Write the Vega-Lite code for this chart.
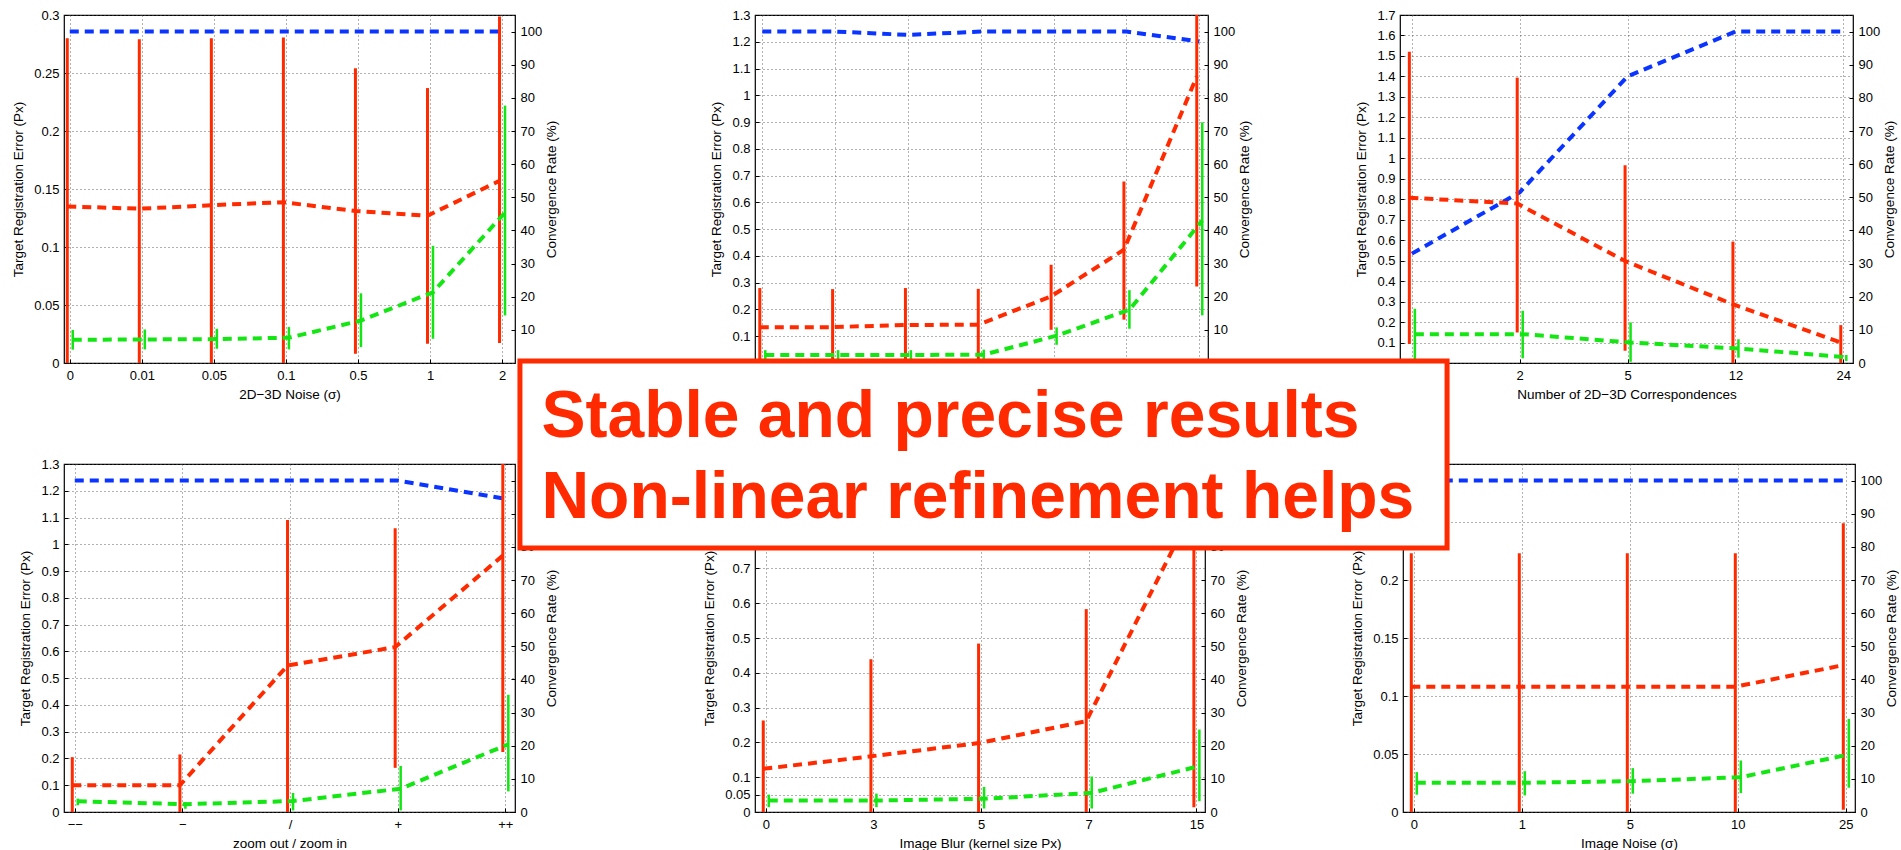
{
  "$schema": "https://vega.github.io/schema/vega-lite/v6.json",
  "background": "white",
  "padding": {"left": 11, "top": 8, "right": 0, "bottom": 0},
  "datasets": {
    "p1": [
      {"i": 1, "lin": 0.135, "lin_lo": 0, "lin_hi": 0.28, "ref": 0.02, "ref_lo": 0.0115, "ref_hi": 0.0285, "conv": 100},
      {"i": 2, "lin": 0.133, "lin_lo": 0, "lin_hi": 0.279, "ref": 0.0203, "ref_lo": 0.0117, "ref_hi": 0.0289, "conv": 100},
      {"i": 3, "lin": 0.136, "lin_lo": 0, "lin_hi": 0.28, "ref": 0.0206, "ref_lo": 0.0123, "ref_hi": 0.0295, "conv": 100},
      {"i": 4, "lin": 0.1386, "lin_lo": 0, "lin_hi": 0.2806, "ref": 0.0218, "ref_lo": 0.0117, "ref_hi": 0.031, "conv": 100},
      {"i": 5, "lin": 0.131, "lin_lo": 0.008, "lin_hi": 0.254, "ref": 0.0366, "ref_lo": 0.0137, "ref_hi": 0.0601, "conv": 100},
      {"i": 6, "lin": 0.127, "lin_lo": 0.0166, "lin_hi": 0.237, "ref": 0.061, "ref_lo": 0.0209, "ref_hi": 0.101, "conv": 100},
      {"i": 7, "lin": 0.157, "lin_lo": 0.0172, "lin_hi": 0.2986, "ref": 0.1297, "ref_lo": 0.041, "ref_hi": 0.2219, "conv": 100}
    ],
    "p2": [
      {"i": 1, "lin": 0.134, "lin_lo": 0, "lin_hi": 0.28, "ref": 0.03, "ref_lo": 0.012, "ref_hi": 0.048, "conv": 100},
      {"i": 2, "lin": 0.134, "lin_lo": 0, "lin_hi": 0.276, "ref": 0.03, "ref_lo": 0.012, "ref_hi": 0.048, "conv": 100},
      {"i": 3, "lin": 0.142, "lin_lo": 0, "lin_hi": 0.28, "ref": 0.03, "ref_lo": 0.012, "ref_hi": 0.048, "conv": 99},
      {"i": 4, "lin": 0.143, "lin_lo": 0, "lin_hi": 0.277, "ref": 0.031, "ref_lo": 0.012, "ref_hi": 0.05, "conv": 100},
      {"i": 5, "lin": 0.249, "lin_lo": 0.124, "lin_hi": 0.367, "ref": 0.102, "ref_lo": 0.068, "ref_hi": 0.133, "conv": 100},
      {"i": 6, "lin": 0.423, "lin_lo": 0.162, "lin_hi": 0.678, "ref": 0.199, "ref_lo": 0.128, "ref_hi": 0.272, "conv": 100},
      {"i": 7, "lin": 1.07, "lin_lo": 0.286, "lin_hi": 1.85, "ref": 0.532, "ref_lo": 0.178, "ref_hi": 0.899, "conv": 97}
    ],
    "p3": [
      {"i": 1, "lin": 0.807, "lin_lo": 0.093, "lin_hi": 1.521, "ref": 0.141, "ref_lo": 0.017, "ref_hi": 0.265, "conv": 33},
      {"i": 2, "lin": 0.779, "lin_lo": 0.149, "lin_hi": 1.394, "ref": 0.141, "ref_lo": 0.023, "ref_hi": 0.255, "conv": 51.5},
      {"i": 3, "lin": 0.498, "lin_lo": 0.06, "lin_hi": 0.966, "ref": 0.1, "ref_lo": 0.006, "ref_hi": 0.198, "conv": 86.5},
      {"i": 4, "lin": 0.287, "lin_lo": 0, "lin_hi": 0.593, "ref": 0.071, "ref_lo": 0.026, "ref_hi": 0.116, "conv": 100},
      {"i": 5, "lin": 0.1, "lin_lo": 0, "lin_hi": 0.185, "ref": 0.028, "ref_lo": 0.01, "ref_hi": 0.039, "conv": 100}
    ],
    "p4": [
      {"i": 1, "lin": 0.1, "lin_lo": 0, "lin_hi": 0.205, "ref": 0.04, "ref_lo": 0.025, "ref_hi": 0.05, "conv": 100},
      {"i": 2, "lin": 0.1, "lin_lo": 0, "lin_hi": 0.215, "ref": 0.029, "ref_lo": 0.012, "ref_hi": 0.037, "conv": 100},
      {"i": 3, "lin": 0.547, "lin_lo": 0, "lin_hi": 1.091, "ref": 0.041, "ref_lo": 0.006, "ref_hi": 0.071, "conv": 100},
      {"i": 4, "lin": 0.616, "lin_lo": 0.165, "lin_hi": 1.06, "ref": 0.087, "ref_lo": 0.006, "ref_hi": 0.172, "conv": 100},
      {"i": 5, "lin": 0.958, "lin_lo": 0.224, "lin_hi": 1.69, "ref": 0.253, "ref_lo": 0.077, "ref_hi": 0.438, "conv": 94.5}
    ],
    "p5": [
      {"i": 1, "lin": 0.124, "lin_lo": 0, "lin_hi": 0.263, "ref": 0.033, "ref_lo": 0.014, "ref_hi": 0.05, "conv": 100},
      {"i": 2, "lin": 0.16, "lin_lo": 0, "lin_hi": 0.439, "ref": 0.033, "ref_lo": 0.014, "ref_hi": 0.053, "conv": 100},
      {"i": 3, "lin": 0.198, "lin_lo": 0, "lin_hi": 0.484, "ref": 0.038, "ref_lo": 0.01, "ref_hi": 0.072, "conv": 100},
      {"i": 4, "lin": 0.261, "lin_lo": 0, "lin_hi": 0.583, "ref": 0.055, "ref_lo": 0.01, "ref_hi": 0.102, "conv": 100},
      {"i": 5, "lin": 0.875, "lin_lo": 0.014, "lin_hi": 1.75, "ref": 0.132, "ref_lo": 0.031, "ref_hi": 0.237, "conv": 97}
    ],
    "p6": [
      {"i": 1, "lin": 0.108, "lin_lo": 0, "lin_hi": 0.223, "ref": 0.0252, "ref_lo": 0.0149, "ref_hi": 0.0344, "conv": 100},
      {"i": 2, "lin": 0.108, "lin_lo": 0, "lin_hi": 0.223, "ref": 0.0252, "ref_lo": 0.0143, "ref_hi": 0.0352, "conv": 100},
      {"i": 3, "lin": 0.108, "lin_lo": 0, "lin_hi": 0.223, "ref": 0.0266, "ref_lo": 0.0158, "ref_hi": 0.0378, "conv": 100},
      {"i": 4, "lin": 0.108, "lin_lo": 0, "lin_hi": 0.223, "ref": 0.03, "ref_lo": 0.0163, "ref_hi": 0.0444, "conv": 100},
      {"i": 5, "lin": 0.1266, "lin_lo": 0.002, "lin_hi": 0.249, "ref": 0.0496, "ref_lo": 0.0209, "ref_hi": 0.0802, "conv": 100}
    ],
    "note_box": [
      {"x_from": -7.276, "x_to": 1.308, "y_from": 0.2276, "y_to": 0.3888}
    ],
    "note_text": [
      {"line": "Stable and precise results", "tx": -7.077, "ty": 0.3233},
      {"line": "Non-linear refinement helps", "tx": -7.077, "ty": 0.2537}
    ]
  },
  "vconcat": [
    {
      "hconcat": [
        {
          "width": 451, "height": 348,
          "data": {"name": "p1"},
          "encoding": {"x": {"field": "i", "type": "quantitative", "scale": {"domain": [0.92, 7.18], "nice": false, "zero": false}, "axis": {"values": [1, 2, 3, 4, 5, 6, 7], "tickCount": 40, "labelOverlap": false, "labelExpr": "['0','0.01','0.05','0.1','0.5','1','2'][datum.value - 1]", "title": "2D−3D Noise (σ)"}}},
          "layer": [
            {"mark": {"type": "line", "color": "#0a34ff", "strokeWidth": 4, "strokeDash": [9, 6]},
             "encoding": {"y": {"field": "conv", "type": "quantitative", "scale": {"domain": [0, 105], "nice": false}, "axis": {"orient": "right", "values": [10, 20, 30, 40, 50, 60, 70, 80, 90, 100], "tickCount": 40, "labelOverlap": false, "title": "Convergence Rate (%)", "titleAngle": -90, "titleBaseline": "top", "grid": false}}}},
            {"layer": [
              {"mark": {"type": "rule", "color": "#ff2a00", "strokeWidth": 3, "xOffset": -2.5, "clip": true},
               "encoding": {"y": {"field": "lin_lo", "type": "quantitative", "scale": {"domain": [0, 0.3], "nice": false}, "axis": {"orient": "left", "values": [0, 0.05, 0.1, 0.15, 0.2, 0.25, 0.3], "tickCount": 40, "grid": true, "labelOverlap": false, "format": "~g", "title": "Target Registration Error (Px)"}}, "y2": {"field": "lin_hi"}}},
              {"mark": {"type": "line", "color": "#ff2a00", "strokeWidth": 4, "strokeDash": [9, 6], "xOffset": -2.5},
               "encoding": {"y": {"field": "lin", "type": "quantitative"}}},
              {"mark": {"type": "rule", "color": "#14e614", "strokeWidth": 2.5, "xOffset": 3, "clip": true},
               "encoding": {"y": {"field": "ref_lo", "type": "quantitative"}, "y2": {"field": "ref_hi"}}},
              {"mark": {"type": "line", "color": "#14e614", "strokeWidth": 4, "strokeDash": [9, 6], "xOffset": 3},
               "encoding": {"y": {"field": "ref", "type": "quantitative"}}}
            ]}
          ],
          "resolve": {"scale": {"y": "independent"}}
        },
        {
          "hconcat": [
            {
              "width": 453, "height": 348,
              "data": {"name": "p2"},
              "encoding": {"x": {"field": "i", "type": "quantitative", "scale": {"domain": [0.9, 7.12], "nice": false, "zero": false}, "axis": {"values": [1, 2, 3, 4, 5, 6, 7], "tickCount": 40, "labels": false, "title": null}}},
              "layer": [
                {"mark": {"type": "line", "color": "#0a34ff", "strokeWidth": 4, "strokeDash": [9, 6]},
                 "encoding": {"y": {"field": "conv", "type": "quantitative", "scale": {"domain": [0, 105], "nice": false}, "axis": {"orient": "right", "values": [0, 10, 20, 30, 40, 50, 60, 70, 80, 90, 100], "tickCount": 40, "labelOverlap": false, "title": "Convergence Rate (%)", "titleAngle": -90, "titleBaseline": "top", "grid": false}}}},
                {"layer": [
                  {"mark": {"type": "rule", "color": "#ff2a00", "strokeWidth": 3, "xOffset": -2.5, "clip": true},
                   "encoding": {"y": {"field": "lin_lo", "type": "quantitative", "scale": {"domain": [0, 1.3], "nice": false}, "axis": {"orient": "left", "values": [0, 0.1, 0.2, 0.3, 0.4, 0.5, 0.6, 0.7, 0.8, 0.9, 1, 1.1, 1.2, 1.3], "tickCount": 40, "grid": true, "labelOverlap": false, "format": "~g", "title": "Target Registration Error (Px)"}}, "y2": {"field": "lin_hi"}}},
                  {"mark": {"type": "line", "color": "#ff2a00", "strokeWidth": 4, "strokeDash": [9, 6], "xOffset": -2.5},
                   "encoding": {"y": {"field": "lin", "type": "quantitative"}}},
                  {"mark": {"type": "rule", "color": "#14e614", "strokeWidth": 2.5, "xOffset": 3, "clip": true},
                   "encoding": {"y": {"field": "ref_lo", "type": "quantitative"}, "y2": {"field": "ref_hi"}}},
                  {"mark": {"type": "line", "color": "#14e614", "strokeWidth": 4, "strokeDash": [9, 6], "xOffset": 3},
                   "encoding": {"y": {"field": "ref", "type": "quantitative"}}}
                ]}
              ],
              "resolve": {"scale": {"y": "independent"}}
            },
            {
              "width": 453, "height": 348,
              "data": {"name": "p3"},
              "encoding": {"x": {"field": "i", "type": "quantitative", "scale": {"domain": [0.89, 5.09], "nice": false, "zero": false}, "axis": {"values": [1, 2, 3, 4, 5], "tickCount": 40, "labelOverlap": false, "labelExpr": "['1','2','5','12','24'][datum.value - 1]", "title": "Number of 2D−3D Correspondences"}}},
              "layer": [
                {"mark": {"type": "line", "color": "#0a34ff", "strokeWidth": 4, "strokeDash": [9, 6]},
                 "encoding": {"y": {"field": "conv", "type": "quantitative", "scale": {"domain": [0, 105], "nice": false}, "axis": {"orient": "right", "values": [0, 10, 20, 30, 40, 50, 60, 70, 80, 90, 100], "tickCount": 40, "labelOverlap": false, "title": "Convergence Rate (%)", "titleAngle": -90, "titleBaseline": "top", "grid": false}}}},
                {"layer": [
                  {"mark": {"type": "rule", "color": "#ff2a00", "strokeWidth": 3, "xOffset": -2.5, "clip": true},
                   "encoding": {"y": {"field": "lin_lo", "type": "quantitative", "scale": {"domain": [0, 1.7], "nice": false}, "axis": {"orient": "left", "values": [0, 0.1, 0.2, 0.3, 0.4, 0.5, 0.6, 0.7, 0.8, 0.9, 1, 1.1, 1.2, 1.3, 1.4, 1.5, 1.6, 1.7], "tickCount": 40, "grid": true, "labelOverlap": false, "format": "~g", "title": "Target Registration Error (Px)"}}, "y2": {"field": "lin_hi"}}},
                  {"mark": {"type": "line", "color": "#ff2a00", "strokeWidth": 4, "strokeDash": [9, 6], "xOffset": -2.5},
                   "encoding": {"y": {"field": "lin", "type": "quantitative"}}},
                  {"mark": {"type": "rule", "color": "#14e614", "strokeWidth": 2.5, "xOffset": 3, "clip": true},
                   "encoding": {"y": {"field": "ref_lo", "type": "quantitative"}, "y2": {"field": "ref_hi"}}},
                  {"mark": {"type": "line", "color": "#14e614", "strokeWidth": 4, "strokeDash": [9, 6], "xOffset": 3},
                   "encoding": {"y": {"field": "ref", "type": "quantitative"}}}
                ]}
              ],
              "resolve": {"scale": {"y": "independent"}}
            }
          ],
          "spacing": 192,
          "bounds": "flush"
        }
      ],
      "spacing": 240,
      "bounds": "flush"
    },
    {
      "hconcat": [
        {
          "width": 451, "height": 348,
          "data": {"name": "p4"},
          "encoding": {"x": {"field": "i", "type": "quantitative", "scale": {"domain": [0.9, 5.09], "nice": false, "zero": false}, "axis": {"values": [1, 2, 3, 4, 5], "tickCount": 40, "labelOverlap": false, "labelExpr": "['−−','−','/','+','++'][datum.value - 1]", "title": "zoom out / zoom in"}}},
          "layer": [
            {"mark": {"type": "line", "color": "#0a34ff", "strokeWidth": 4, "strokeDash": [9, 6]},
             "encoding": {"y": {"field": "conv", "type": "quantitative", "scale": {"domain": [0, 105], "nice": false}, "axis": {"orient": "right", "values": [0, 10, 20, 30, 40, 50, 60, 70, 80, 90, 100], "tickCount": 40, "labelOverlap": false, "title": "Convergence Rate (%)", "titleAngle": -90, "titleBaseline": "top", "grid": false}}}},
            {"layer": [
              {"mark": {"type": "rule", "color": "#ff2a00", "strokeWidth": 3, "xOffset": -2.5, "clip": true},
               "encoding": {"y": {"field": "lin_lo", "type": "quantitative", "scale": {"domain": [0, 1.3], "nice": false}, "axis": {"orient": "left", "values": [0, 0.1, 0.2, 0.3, 0.4, 0.5, 0.6, 0.7, 0.8, 0.9, 1, 1.1, 1.2, 1.3], "tickCount": 40, "grid": true, "labelOverlap": false, "format": "~g", "title": "Target Registration Error (Px)"}}, "y2": {"field": "lin_hi"}}},
              {"mark": {"type": "line", "color": "#ff2a00", "strokeWidth": 4, "strokeDash": [9, 6], "xOffset": -2.5},
               "encoding": {"y": {"field": "lin", "type": "quantitative"}}},
              {"mark": {"type": "rule", "color": "#14e614", "strokeWidth": 2.5, "xOffset": 3, "clip": true},
               "encoding": {"y": {"field": "ref_lo", "type": "quantitative"}, "y2": {"field": "ref_hi"}}},
              {"mark": {"type": "line", "color": "#14e614", "strokeWidth": 4, "strokeDash": [9, 6], "xOffset": 3},
               "encoding": {"y": {"field": "ref", "type": "quantitative"}}}
            ]}
          ],
          "resolve": {"scale": {"y": "independent"}}
        },
        {
          "hconcat": [
            {
              "width": 450, "height": 348,
              "data": {"name": "p5"},
              "encoding": {"x": {"field": "i", "type": "quantitative", "scale": {"domain": [0.9, 5.08], "nice": false, "zero": false}, "axis": {"values": [1, 2, 3, 4, 5], "tickCount": 40, "labelOverlap": false, "labelExpr": "['0','3','5','7','15'][datum.value - 1]", "title": "Image Blur (kernel size Px)"}}},
              "layer": [
                {"mark": {"type": "line", "color": "#0a34ff", "strokeWidth": 4, "strokeDash": [9, 6]},
                 "encoding": {"y": {"field": "conv", "type": "quantitative", "scale": {"domain": [0, 105], "nice": false}, "axis": {"orient": "right", "values": [0, 10, 20, 30, 40, 50, 60, 70, 80, 90, 100], "tickCount": 40, "labelOverlap": false, "title": "Convergence Rate (%)", "titleAngle": -90, "titleBaseline": "top", "grid": false}}}},
                {"layer": [
                  {"mark": {"type": "rule", "color": "#ff2a00", "strokeWidth": 3, "xOffset": -2.5, "clip": true},
                   "encoding": {"y": {"field": "lin_lo", "type": "quantitative", "scale": {"domain": [0, 1], "nice": false}, "axis": {"orient": "left", "values": [0, 0.05, 0.1, 0.2, 0.3, 0.4, 0.5, 0.6, 0.7, 0.8, 0.9, 1], "tickCount": 40, "grid": true, "labelOverlap": false, "format": "~g", "title": "Target Registration Error (Px)"}}, "y2": {"field": "lin_hi"}}},
                  {"mark": {"type": "line", "color": "#ff2a00", "strokeWidth": 4, "strokeDash": [9, 6], "xOffset": -2.5},
                   "encoding": {"y": {"field": "lin", "type": "quantitative"}}},
                  {"mark": {"type": "rule", "color": "#14e614", "strokeWidth": 2.5, "xOffset": 3, "clip": true},
                   "encoding": {"y": {"field": "ref_lo", "type": "quantitative"}, "y2": {"field": "ref_hi"}}},
                  {"mark": {"type": "line", "color": "#14e614", "strokeWidth": 4, "strokeDash": [9, 6], "xOffset": 3},
                   "encoding": {"y": {"field": "ref", "type": "quantitative"}}}
                ]}
              ],
              "resolve": {"scale": {"y": "independent"}}
            },
            {
              "width": 452, "height": 348,
              "data": {"name": "p6"},
              "encoding": {"x": {"field": "i", "type": "quantitative", "scale": {"domain": [0.9, 5.085], "nice": false, "zero": false}, "axis": {"values": [1, 2, 3, 4, 5], "tickCount": 40, "labelOverlap": false, "labelExpr": "['0','1','5','10','25'][datum.value - 1]", "title": "Image Noise (σ)"}}},
              "layer": [
                {"mark": {"type": "line", "color": "#0a34ff", "strokeWidth": 4, "strokeDash": [9, 6]},
                 "encoding": {"y": {"field": "conv", "type": "quantitative", "scale": {"domain": [0, 105], "nice": false}, "axis": {"orient": "right", "values": [0, 10, 20, 30, 40, 50, 60, 70, 80, 90, 100], "tickCount": 40, "labelOverlap": false, "title": "Convergence Rate (%)", "titleAngle": -90, "titleBaseline": "top", "grid": false}}}},
                {"layer": [
                  {"mark": {"type": "rule", "color": "#ff2a00", "strokeWidth": 3, "xOffset": -2.5, "clip": true},
                   "encoding": {"y": {"field": "lin_lo", "type": "quantitative", "scale": {"domain": [0, 0.3], "nice": false}, "axis": {"orient": "left", "values": [0, 0.05, 0.1, 0.15, 0.2, 0.25, 0.3], "tickCount": 40, "grid": true, "labelOverlap": false, "format": "~g", "title": "Target Registration Error (Px)"}}, "y2": {"field": "lin_hi"}}},
                  {"mark": {"type": "line", "color": "#ff2a00", "strokeWidth": 4, "strokeDash": [9, 6], "xOffset": -2.5},
                   "encoding": {"y": {"field": "lin", "type": "quantitative"}}},
                  {"mark": {"type": "rule", "color": "#14e614", "strokeWidth": 2.5, "xOffset": 3, "clip": true},
                   "encoding": {"y": {"field": "ref_lo", "type": "quantitative"}, "y2": {"field": "ref_hi"}}},
                  {"mark": {"type": "line", "color": "#14e614", "strokeWidth": 4, "strokeDash": [9, 6], "xOffset": 3},
                   "encoding": {"y": {"field": "ref", "type": "quantitative"}}}
                ]},
                {"layer": [
                  {"data": {"name": "note_box"},
                   "mark": {"type": "rect", "fill": "white", "stroke": "#ff2a00", "strokeWidth": 5},
                   "encoding": {"x": {"field": "x_from", "type": "quantitative"}, "x2": {"field": "x_to"}, "y": {"field": "y_from", "type": "quantitative", "scale": {"domain": [0, 0.3], "nice": false}, "axis": null}, "y2": {"field": "y_to"}}},
                  {"data": {"name": "note_text"},
                   "mark": {"type": "text", "align": "left", "baseline": "alphabetic", "font": "Liberation Sans", "fontWeight": "bold", "fontSize": 66, "color": "#ff2a00"},
                   "encoding": {"x": {"field": "tx", "type": "quantitative"}, "y": {"field": "ty", "type": "quantitative"}, "text": {"field": "line"}}}
                ]}
              ],
              "resolve": {"scale": {"y": "independent"}}
            }
          ],
          "spacing": 198,
          "bounds": "flush"
        }
      ],
      "spacing": 240,
      "bounds": "flush"
    }
  ],
  "spacing": 449,
  "bounds": "flush",
  "config": {
    "font": "Liberation Sans",
    "view": {"stroke": "#000000", "strokeWidth": 1.2},
    "axis": {"labelFont": "Liberation Sans", "labelFontSize": 13, "labelColor": "#000000", "labelOverlap": false, "titleFont": "Liberation Sans", "titleFontSize": 13.5, "titleFontWeight": "normal", "titleColor": "#000000", "tickColor": "#000000", "tickSize": -4, "labelPadding": 9, "domain": false, "gridColor": "#555555", "gridDash": [1, 3], "gridWidth": 1, "gridOpacity": 0.9},
    "axisX": {"labelFlush": false, "labelPadding": 10.5, "titlePadding": 4.5},
    "axisLeft": {"titlePadding": 8},
    "axisRight": {"titlePadding": 2.5}
  }
}
